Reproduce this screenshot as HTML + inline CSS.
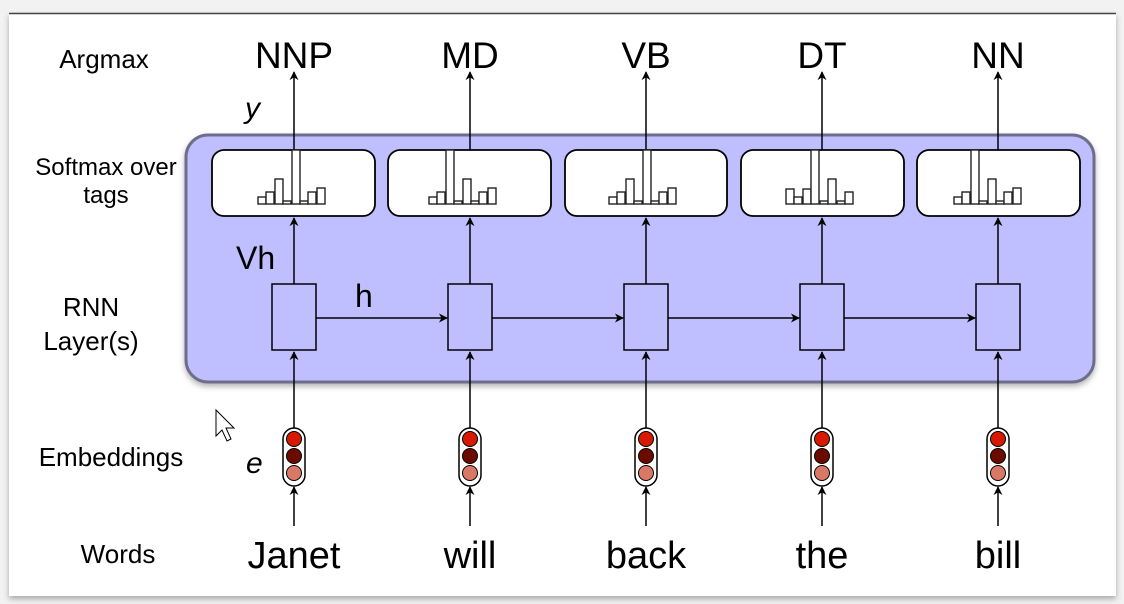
<!DOCTYPE html>
<html><head><meta charset="utf-8"><style>
html,body{margin:0;padding:0;background:#f4f4f4;}
svg{display:block;font-family:"Liberation Sans",Arial,sans-serif;}
</style></head><body>
<svg width="1124" height="604" viewBox="0 0 1124 604" xmlns="http://www.w3.org/2000/svg">
<defs>
<filter id="sh" x="-5%" y="-5%" width="110%" height="115%"><feDropShadow dx="0" dy="3" stdDeviation="3" flood-color="#000" flood-opacity="0.3"/></filter>
<marker id="ar" viewBox="0 0 10 10" refX="9" refY="5" markerWidth="9" markerHeight="9" markerUnits="userSpaceOnUse" orient="auto"><path d="M0,0 L10,5 L0,10 L3,5 Z" fill="#000"/></marker>
</defs>
<rect x="0" y="0" width="1124" height="604" fill="#f2f2f2"/>
<rect x="9" y="13" width="1107" height="583" fill="#fff" filter="url(#sh)"/>
<line x1="9" y1="13.5" x2="1116" y2="13.5" stroke="#444" stroke-width="1.5"/>

<rect x="186" y="135" width="908" height="247" rx="22" fill="#bfbfff" stroke="#6e6e8c" stroke-width="3" filter="url(#sh)"/>

<g font-size="26" fill="#000" text-anchor="middle">
<text x="104" y="68">Argmax</text>
<text x="106" y="175" font-size="24">Softmax over</text>
<text x="106" y="203" font-size="24">tags</text>
<text x="91" y="316">RNN</text>
<text x="91" y="350">Layer(s)</text>
<text x="111" y="466">Embeddings</text>
<text x="118" y="563">Words</text>
</g>

<g font-size="37" text-anchor="middle">
<text x="294" y="68">NNP</text>
<text x="470" y="68">MD</text>
<text x="646" y="68">VB</text>
<text x="822" y="68">DT</text>
<text x="998" y="68">NN</text>
</g>
<g font-size="38" text-anchor="middle">
<text x="294" y="568">Janet</text>
<text x="470" y="568">will</text>
<text x="646" y="568">back</text>
<text x="822" y="568">the</text>
<text x="998" y="568">bill</text>
</g>
<text x="245" y="118" font-size="30" font-style="italic">y</text>
<text x="236" y="269" font-size="32">Vh</text>
<text x="355" y="307" font-size="32">h</text>
<text x="246" y="473" font-size="30" font-style="italic">e</text>

<path d="M216,410 L216,436 L222,430 L227,441 L231,439 L226,428 L234,428 Z" fill="#fff" stroke="#000" stroke-width="1"/>

<g stroke="#000" stroke-width="1.5" fill="none">
<g marker-end="url(#ar)">
<line x1="294" y1="150" x2="294" y2="72"/><line x1="470" y1="150" x2="470" y2="72"/><line x1="646" y1="150" x2="646" y2="72"/><line x1="822" y1="150" x2="822" y2="72"/><line x1="998" y1="150" x2="998" y2="72"/>
<line x1="294" y1="284" x2="294" y2="218"/><line x1="470" y1="284" x2="470" y2="218"/><line x1="646" y1="284" x2="646" y2="218"/><line x1="822" y1="284" x2="822" y2="218"/><line x1="998" y1="284" x2="998" y2="218"/>
<line x1="294" y1="428" x2="294" y2="352"/><line x1="470" y1="428" x2="470" y2="352"/><line x1="646" y1="428" x2="646" y2="352"/><line x1="822" y1="428" x2="822" y2="352"/><line x1="998" y1="428" x2="998" y2="352"/>
<line x1="294" y1="526" x2="294" y2="487"/><line x1="470" y1="526" x2="470" y2="487"/><line x1="646" y1="526" x2="646" y2="487"/><line x1="822" y1="526" x2="822" y2="487"/><line x1="998" y1="526" x2="998" y2="487"/>
<line x1="316" y1="318" x2="447" y2="318"/><line x1="492" y1="318" x2="623" y2="318"/><line x1="668" y1="318" x2="799" y2="318"/><line x1="844" y1="318" x2="975" y2="318"/>
</g>
<g fill="#fff" stroke-width="1.8">
<rect x="212" y="150" width="163" height="66" rx="12"/>
<rect x="388" y="150" width="163" height="66" rx="12"/>
<rect x="565" y="150" width="162" height="66" rx="12"/>
<rect x="741" y="150" width="163" height="66" rx="12"/>
<rect x="917" y="150" width="163" height="66" rx="12"/>
</g>
<g fill="#bfbfff" stroke-width="1.5">
<rect x="272" y="284" width="44" height="66"/><rect x="448" y="284" width="44" height="66"/><rect x="624" y="284" width="44" height="66"/><rect x="800" y="284" width="44" height="66"/><rect x="976" y="284" width="44" height="66"/>
</g>
</g>

<g fill="#fff" stroke="#222" stroke-width="1.4">
<rect x="258" y="197" width="8" height="7"/><rect x="266" y="192" width="8" height="12"/><rect x="275" y="179" width="8" height="25"/><rect x="283" y="201" width="8" height="3"/><rect x="292" y="150" width="8" height="54"/><rect x="300" y="201" width="8" height="3"/><rect x="308" y="192" width="8" height="12"/><rect x="317" y="188" width="8" height="16"/>
<rect x="429" y="197" width="8" height="7"/><rect x="437" y="192" width="8" height="12"/><rect x="446" y="150" width="8" height="54"/><rect x="454" y="201" width="8" height="3"/><rect x="463" y="179" width="8" height="25"/><rect x="471" y="201" width="8" height="3"/><rect x="479" y="192" width="8" height="12"/><rect x="488" y="188" width="8" height="16"/>
<rect x="609" y="197" width="8" height="7"/><rect x="617" y="192" width="8" height="12"/><rect x="626" y="179" width="8" height="25"/><rect x="634" y="201" width="8" height="3"/><rect x="643" y="150" width="8" height="54"/><rect x="651" y="201" width="8" height="3"/><rect x="659" y="192" width="8" height="12"/><rect x="668" y="188" width="8" height="16"/>
<rect x="786" y="189" width="8" height="15"/><rect x="794" y="197" width="8" height="7"/><rect x="803" y="189" width="8" height="15"/><rect x="811" y="150" width="8" height="54"/><rect x="820" y="201" width="8" height="3"/><rect x="828" y="179" width="8" height="25"/><rect x="837" y="201" width="8" height="3"/><rect x="845" y="192" width="8" height="12"/>
<rect x="954" y="197" width="8" height="7"/><rect x="962" y="192" width="8" height="12"/><rect x="971" y="150" width="8" height="54"/><rect x="979" y="201" width="8" height="3"/><rect x="988" y="179" width="8" height="25"/><rect x="996" y="201" width="8" height="3"/><rect x="1004" y="192" width="8" height="12"/><rect x="1013" y="188" width="8" height="16"/>
</g>

<g>
<g transform="translate(294,0)"><rect x="-11" y="428" width="22" height="58" rx="11" fill="#fff" stroke="#000" stroke-width="1.5"/><circle cy="439" r="7.5" fill="#d61a00" stroke="#000"/><circle cy="456" r="7.5" fill="#6b0b00" stroke="#000"/><circle cy="473" r="7.5" fill="#da7867" stroke="#000"/></g>
<g transform="translate(470,0)"><rect x="-11" y="428" width="22" height="58" rx="11" fill="#fff" stroke="#000" stroke-width="1.5"/><circle cy="439" r="7.5" fill="#d61a00" stroke="#000"/><circle cy="456" r="7.5" fill="#6b0b00" stroke="#000"/><circle cy="473" r="7.5" fill="#da7867" stroke="#000"/></g>
<g transform="translate(646,0)"><rect x="-11" y="428" width="22" height="58" rx="11" fill="#fff" stroke="#000" stroke-width="1.5"/><circle cy="439" r="7.5" fill="#d61a00" stroke="#000"/><circle cy="456" r="7.5" fill="#6b0b00" stroke="#000"/><circle cy="473" r="7.5" fill="#da7867" stroke="#000"/></g>
<g transform="translate(822,0)"><rect x="-11" y="428" width="22" height="58" rx="11" fill="#fff" stroke="#000" stroke-width="1.5"/><circle cy="439" r="7.5" fill="#d61a00" stroke="#000"/><circle cy="456" r="7.5" fill="#6b0b00" stroke="#000"/><circle cy="473" r="7.5" fill="#da7867" stroke="#000"/></g>
<g transform="translate(998,0)"><rect x="-11" y="428" width="22" height="58" rx="11" fill="#fff" stroke="#000" stroke-width="1.5"/><circle cy="439" r="7.5" fill="#d61a00" stroke="#000"/><circle cy="456" r="7.5" fill="#6b0b00" stroke="#000"/><circle cy="473" r="7.5" fill="#da7867" stroke="#000"/></g>
</g>
</svg>
</body></html>
